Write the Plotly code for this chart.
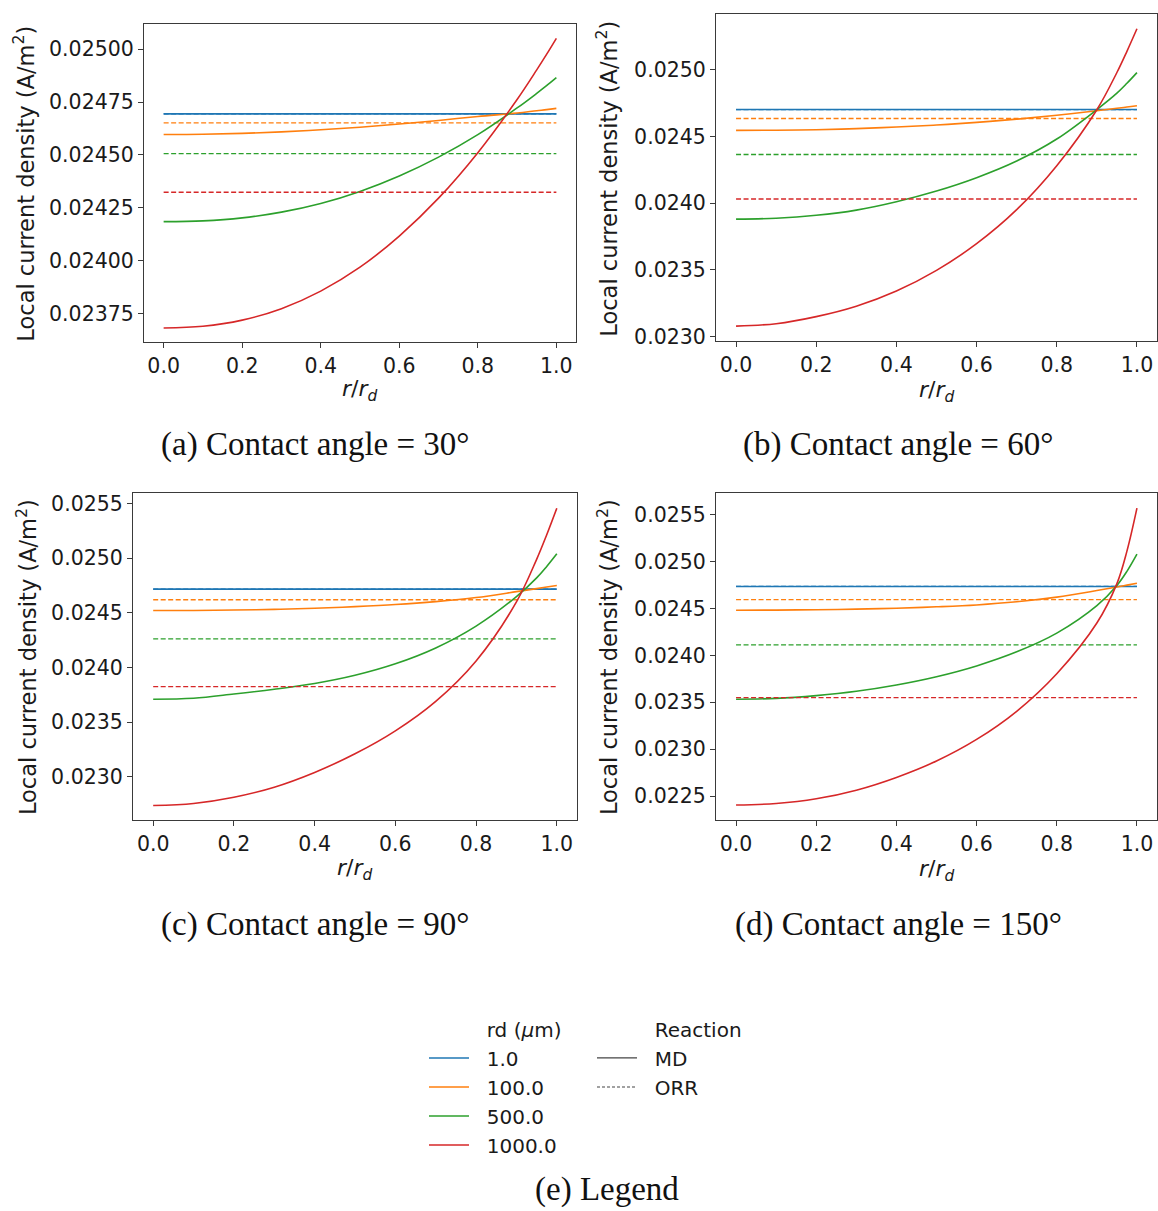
import plotly.graph_objects as go

W, H = 1158, 1211

# Radial position r/r_d where the local current density was sampled
R = [0.0, 0.1, 0.2, 0.3, 0.4, 0.5, 0.6, 0.7, 0.8, 0.9, 0.95, 0.975, 1.0]

RD_LABELS = ["1.0", "100.0", "500.0", "1000.0"]
COLORS = ["#1f77b4", "#ff7f0e", "#2ca02c", "#d62728"]

# ---- Contact angle = 30 deg ----
MD_30_RD1 = [0.024694, 0.024694, 0.024694, 0.024694, 0.024694, 0.024694, 0.024694,
             0.024694, 0.024694, 0.024694, 0.024694, 0.024694, 0.024694]
MD_30_RD100 = [0.024597, 0.024598, 0.024602, 0.024609, 0.024619, 0.024631, 0.024646,
               0.024663, 0.024682, 0.024698, 0.024709, 0.024714, 0.024720]
MD_30_RD500 = [0.024185, 0.024189, 0.024203, 0.024230, 0.024271, 0.024328, 0.024401,
               0.024490, 0.024596, 0.024722, 0.024791, 0.024827, 0.024865]
MD_30_RD1000 = [0.023683, 0.023691, 0.023720, 0.023774, 0.023857, 0.023970, 0.024117,
                0.024296, 0.024511, 0.024762, 0.024902, 0.024975, 0.025051]
ORR_30 = [0.024694, 0.024652, 0.024506, 0.024324]

# ---- Contact angle = 60 deg ----
MD_60_RD1 = [0.024701, 0.024701, 0.024701, 0.024701, 0.024701, 0.024701, 0.024701,
             0.024701, 0.024701, 0.024701, 0.024701, 0.024701, 0.024701]
MD_60_RD100 = [0.024545, 0.024546, 0.024550, 0.024558, 0.024570, 0.024585, 0.024605,
               0.024629, 0.024658, 0.024692, 0.024711, 0.024720, 0.024730]
MD_60_RD500 = [0.023879, 0.023886, 0.023908, 0.023947, 0.024010, 0.024090, 0.024190,
               0.024315, 0.024480, 0.024701, 0.024824, 0.024898, 0.024978]
MD_60_RD1000 = [0.023077, 0.023095, 0.023148, 0.023226, 0.023340, 0.023495, 0.023695,
                0.023950, 0.024280, 0.024700, 0.024979, 0.025138, 0.025307]
ORR_60 = [0.024701, 0.024634, 0.024364, 0.024030]

# ---- Contact angle = 90 deg ----
MD_90_RD1 = [0.024717, 0.024717, 0.024717, 0.024717, 0.024717, 0.024717, 0.024717,
             0.024717, 0.024717, 0.024717, 0.024717, 0.024717, 0.024717]
MD_90_RD100 = [0.024521, 0.024522, 0.024526, 0.024532, 0.024542, 0.024557, 0.024576,
               0.024603, 0.024640, 0.024694, 0.024722, 0.024736, 0.024750]
MD_90_RD500 = [0.023710, 0.023718, 0.023757, 0.023801, 0.023854, 0.023929, 0.024034,
               0.024179, 0.024379, 0.024649, 0.024820, 0.024925, 0.025041]
MD_90_RD1000 = [0.022737, 0.022756, 0.022813, 0.022905, 0.023040, 0.023210, 0.023420,
                0.023690, 0.024060, 0.024600, 0.024990, 0.025215, 0.025458]
ORR_90 = [0.024717, 0.024620, 0.024261, 0.023825]

# ---- Contact angle = 150 deg ----
MD_150_RD1 = [0.024734, 0.024734, 0.024734, 0.024734, 0.024734, 0.024734, 0.024734,
              0.024734, 0.024734, 0.024734, 0.024734, 0.024734, 0.024734]
MD_150_RD100 = [0.024481, 0.024482, 0.024486, 0.024492, 0.024502, 0.024517, 0.024537,
                0.024570, 0.024620, 0.024690, 0.024728, 0.024748, 0.024768]
MD_150_RD500 = [0.023532, 0.023541, 0.023571, 0.023617, 0.023684, 0.023772, 0.023887,
                0.024037, 0.024237, 0.024530, 0.024745, 0.024895, 0.025078]
MD_150_RD1000 = [0.022405, 0.022421, 0.022471, 0.022563, 0.022699, 0.022874, 0.023104,
                 0.023404, 0.023804, 0.024344, 0.024764, 0.025110, 0.025568]
ORR_150 = [0.024734, 0.024593, 0.024112, 0.023550]

CAPTIONS = ["(a) Contact angle = 30°", "(b) Contact angle = 60°",
            "(c) Contact angle = 90°", "(d) Contact angle = 150°"]

PANELS = [
    ([MD_30_RD1, MD_30_RD100, MD_30_RD500, MD_30_RD1000], ORR_30, 0.00025, ".5f"),
    ([MD_60_RD1, MD_60_RD100, MD_60_RD500, MD_60_RD1000], ORR_60, 0.0005, ".4f"),
    ([MD_90_RD1, MD_90_RD100, MD_90_RD500, MD_90_RD1000], ORR_90, 0.0005, ".4f"),
    ([MD_150_RD1, MD_150_RD100, MD_150_RD500, MD_150_RD1000], ORR_150, 0.0005, ".4f"),
]

# Plot-area boxes in pixels: (left, right, top, bottom)
BOXES = [(144, 576, 23, 344), (716, 1157, 13, 342.5),
         (133, 577, 496, 825.5), (716, 1157, 496, 825)]
YTITLE_POS = [(24, 184), (607, 179), (26, 661), (607, 661)]
XTITLE_POS = [(360, 392), (937, 393), (355, 875), (937, 876)]
CAPTION_POS = [(315, 447), (898, 447), (315, 930), (898, 930)]

FONT = "DejaVu Sans"
SERIF = "Liberation Serif"
DASH = "5px,2.5px"
PADNAME = "\u00a0\u00a0"


def px(x):
    return x / W


def py(y):
    return 1 - y / H


fig = go.Figure()
annotations = []

for i, (md_series, orr_vals, dtick, fmt) in enumerate(PANELS):
    xa = "x" if i == 0 else f"x{i + 1}"
    ya = "y" if i == 0 else f"y{i + 1}"
    # Solid lines: MD reaction profiles; dashed lines: ORR (uniform)
    for k in range(4):
        fig.add_trace(go.Scatter(
            x=R, y=md_series[k], mode="lines", xaxis=xa, yaxis=ya,
            line=dict(color=COLORS[k], width=1.6, shape="spline", smoothing=1.0),
            showlegend=False, hoverinfo="skip"))
        fig.add_trace(go.Scatter(
            x=[R[0], R[-1]], y=[orr_vals[k], orr_vals[k]], mode="lines",
            xaxis=xa, yaxis=ya,
            line=dict(color=COLORS[k], width=1.3, dash=DASH),
            showlegend=False, hoverinfo="skip"))

    allv = [v for s in md_series for v in s] + list(orr_vals)
    lo, hi = min(allv), max(allv)
    pad = 0.05 * (hi - lo)
    l, r, t, b = BOXES[i]
    axis_common = dict(
        showline=True, mirror=True, linecolor="#3a3a3a", linewidth=1.1,
        ticks="outside", ticklen=5, tickwidth=1, tickcolor="#3a3a3a",
        showgrid=False, zeroline=False,
        tickfont=dict(family=FONT, size=20.5, color="#1a1a1a"))
    fig.update_layout(**{
        ("xaxis" if i == 0 else f"xaxis{i + 1}"): dict(
            domain=[px(l), px(r)], anchor=ya, range=[-0.05, 1.05],
            tick0=0, dtick=0.2, tickformat=".1f", **axis_common),
        ("yaxis" if i == 0 else f"yaxis{i + 1}"): dict(
            domain=[py(b), py(t)], anchor=xa, range=[lo - pad, hi + pad],
            tick0=0, dtick=dtick, tickformat=fmt, **axis_common),
    })

    yx, yy = YTITLE_POS[i]
    annotations.append(dict(
        text="Local current density (A/m<sup>2</sup>)", textangle=-90,
        x=px(yx), y=py(yy), xref="paper", yref="paper",
        xanchor="center", yanchor="middle", showarrow=False,
        font=dict(family=FONT, size=22.5, color="#1a1a1a")))
    xx, xy = XTITLE_POS[i]
    annotations.append(dict(
        text="<i>r</i>/<i>r</i><sub><i>d</i></sub>",
        x=px(xx), y=py(xy), xref="paper", yref="paper",
        xanchor="center", yanchor="middle", showarrow=False,
        font=dict(family=FONT, size=22, color="#1a1a1a")))
    cx, cy = CAPTION_POS[i]
    annotations.append(dict(
        text=CAPTIONS[i], x=px(cx), y=py(cy), xref="paper", yref="paper",
        xanchor="center", yanchor="middle", showarrow=False,
        font=dict(family=SERIF, size=33, color="#111111")))

annotations.append(dict(
    text="(e) Legend", x=px(607), y=py(1197), xref="paper", yref="paper",
    xanchor="center", yanchor="middle", showarrow=False,
    font=dict(family=SERIF, size=33, color="#111111")))

# Legend entries (seaborn-style: a header row without a handle)
blank = dict(color="rgba(0,0,0,0)", width=1.5)
fig.add_trace(go.Scatter(x=[None], y=[None], mode="lines", line=blank,
                         name=PADNAME + "rd (<i>μ</i>m)", legend="legend",
                         hoverinfo="skip"))
for k in range(4):
    fig.add_trace(go.Scatter(x=[None], y=[None], mode="lines",
                             line=dict(color=COLORS[k], width=1.6),
                             name=PADNAME + RD_LABELS[k], legend="legend",
                             hoverinfo="skip"))
fig.add_trace(go.Scatter(x=[None], y=[None], mode="lines", line=blank,
                         name=PADNAME + "Reaction", legend="legend2", hoverinfo="skip"))
fig.add_trace(go.Scatter(x=[None], y=[None], mode="lines",
                         line=dict(color="#444444", width=1.3),
                         name=PADNAME + "MD", legend="legend2", hoverinfo="skip"))
fig.add_trace(go.Scatter(x=[None], y=[None], mode="lines",
                         line=dict(color="#444444", width=1.1, dash="3px,2px"),
                         name=PADNAME + "ORR", legend="legend2", hoverinfo="skip"))

legend_common = dict(
    xref="paper", yref="paper", xanchor="left", yanchor="top",
    bgcolor="rgba(0,0,0,0)", borderwidth=0, itemwidth=40,
    traceorder="normal", tracegroupgap=0,
    font=dict(family=FONT, size=20, color="#1a1a1a"))

fig.update_layout(
    width=W, height=H,
    margin=dict(l=0, r=0, t=0, b=0),
    paper_bgcolor="white", plot_bgcolor="white",
    showlegend=True,
    legend=dict(x=px(424), y=py(1016), **legend_common),
    legend2=dict(x=px(592), y=py(1016), **legend_common),
    annotations=annotations,
)

fig.write_html("out.html")
